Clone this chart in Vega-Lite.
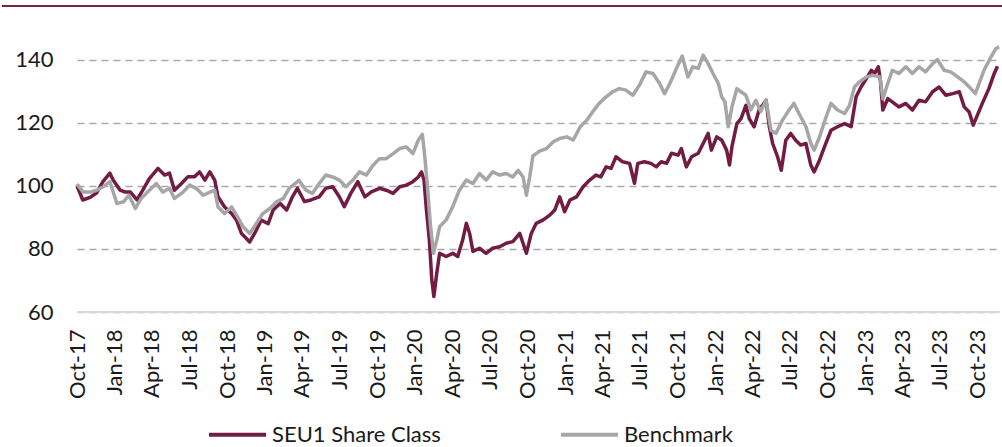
{
  "$schema": "https://vega.github.io/schema/vega-lite/v6.json",
  "width": 923,
  "height": 284,
  "autosize": "none",
  "padding": {"left": 77, "top": 28, "right": 2, "bottom": 135},
  "background": "white",
  "config": {
    "view": {"stroke": null},
    "font": "Lato",
    "axis": {"labelFont": "Lato", "labelColor": "#1a1a1a", "labelFontSize": 22},
    "legend": {"labelFont": "Lato"}
  },
  "data": {"values": [
    {"date":"2017-10-01","series":"SEU1 Share Class","value":100},
    {"date":"2017-10-15","series":"SEU1 Share Class","value":95.5},
    {"date":"2017-11-02","series":"SEU1 Share Class","value":96.3},
    {"date":"2017-11-18","series":"SEU1 Share Class","value":97.8},
    {"date":"2017-12-03","series":"SEU1 Share Class","value":101.3},
    {"date":"2017-12-20","series":"SEU1 Share Class","value":104},
    {"date":"2017-12-28","series":"SEU1 Share Class","value":101.8},
    {"date":"2018-01-14","series":"SEU1 Share Class","value":98.6},
    {"date":"2018-01-26","series":"SEU1 Share Class","value":98},
    {"date":"2018-02-08","series":"SEU1 Share Class","value":98},
    {"date":"2018-02-24","series":"SEU1 Share Class","value":95.5},
    {"date":"2018-03-10","series":"SEU1 Share Class","value":98.6},
    {"date":"2018-03-26","series":"SEU1 Share Class","value":102.3},
    {"date":"2018-04-16","series":"SEU1 Share Class","value":105.5},
    {"date":"2018-05-02","series":"SEU1 Share Class","value":103.4},
    {"date":"2018-05-14","series":"SEU1 Share Class","value":104},
    {"date":"2018-05-26","series":"SEU1 Share Class","value":98.6},
    {"date":"2018-06-12","series":"SEU1 Share Class","value":100.7},
    {"date":"2018-06-28","series":"SEU1 Share Class","value":102.9},
    {"date":"2018-07-14","series":"SEU1 Share Class","value":102.9},
    {"date":"2018-07-26","series":"SEU1 Share Class","value":104.4},
    {"date":"2018-08-08","series":"SEU1 Share Class","value":101.8},
    {"date":"2018-08-20","series":"SEU1 Share Class","value":104.4},
    {"date":"2018-09-01","series":"SEU1 Share Class","value":101.8},
    {"date":"2018-09-09","series":"SEU1 Share Class","value":96.5},
    {"date":"2018-09-25","series":"SEU1 Share Class","value":93.3},
    {"date":"2018-10-12","series":"SEU1 Share Class","value":91.2},
    {"date":"2018-10-24","series":"SEU1 Share Class","value":89.1},
    {"date":"2018-11-05","series":"SEU1 Share Class","value":84.9},
    {"date":"2018-11-17","series":"SEU1 Share Class","value":83.3},
    {"date":"2018-11-25","series":"SEU1 Share Class","value":82.2},
    {"date":"2018-12-07","series":"SEU1 Share Class","value":84.9},
    {"date":"2018-12-23","series":"SEU1 Share Class","value":89.1},
    {"date":"2019-01-09","series":"SEU1 Share Class","value":88},
    {"date":"2019-01-21","series":"SEU1 Share Class","value":92.3},
    {"date":"2019-02-07","series":"SEU1 Share Class","value":94.4},
    {"date":"2019-02-23","series":"SEU1 Share Class","value":92.3},
    {"date":"2019-03-09","series":"SEU1 Share Class","value":96.5},
    {"date":"2019-03-21","series":"SEU1 Share Class","value":99.2},
    {"date":"2019-04-07","series":"SEU1 Share Class","value":95},
    {"date":"2019-04-23","series":"SEU1 Share Class","value":95.5},
    {"date":"2019-05-13","series":"SEU1 Share Class","value":96.5},
    {"date":"2019-05-29","series":"SEU1 Share Class","value":99.2},
    {"date":"2019-06-15","series":"SEU1 Share Class","value":99.7},
    {"date":"2019-07-01","series":"SEU1 Share Class","value":96.5},
    {"date":"2019-07-13","series":"SEU1 Share Class","value":93.4},
    {"date":"2019-07-29","series":"SEU1 Share Class","value":97.6},
    {"date":"2019-08-15","series":"SEU1 Share Class","value":101.3},
    {"date":"2019-09-01","series":"SEU1 Share Class","value":96.5},
    {"date":"2019-09-17","series":"SEU1 Share Class","value":98.1},
    {"date":"2019-10-07","series":"SEU1 Share Class","value":99.2},
    {"date":"2019-10-23","series":"SEU1 Share Class","value":98.6},
    {"date":"2019-11-09","series":"SEU1 Share Class","value":97.6},
    {"date":"2019-11-25","series":"SEU1 Share Class","value":99.7},
    {"date":"2019-12-11","series":"SEU1 Share Class","value":100.2},
    {"date":"2019-12-27","series":"SEU1 Share Class","value":101.3},
    {"date":"2020-01-09","series":"SEU1 Share Class","value":102.8},
    {"date":"2020-01-17","series":"SEU1 Share Class","value":104.4},
    {"date":"2020-01-23","series":"SEU1 Share Class","value":101.8},
    {"date":"2020-01-29","series":"SEU1 Share Class","value":92.3},
    {"date":"2020-02-05","series":"SEU1 Share Class","value":82.8},
    {"date":"2020-02-11","series":"SEU1 Share Class","value":70.2},
    {"date":"2020-02-16","series":"SEU1 Share Class","value":64.9},
    {"date":"2020-02-23","series":"SEU1 Share Class","value":72.3},
    {"date":"2020-03-01","series":"SEU1 Share Class","value":78.6},
    {"date":"2020-03-17","series":"SEU1 Share Class","value":77.6},
    {"date":"2020-04-02","series":"SEU1 Share Class","value":78.6},
    {"date":"2020-04-14","series":"SEU1 Share Class","value":77.6},
    {"date":"2020-04-26","series":"SEU1 Share Class","value":82.8},
    {"date":"2020-05-05","series":"SEU1 Share Class","value":88.1},
    {"date":"2020-05-13","series":"SEU1 Share Class","value":84.9},
    {"date":"2020-05-21","series":"SEU1 Share Class","value":79.2},
    {"date":"2020-06-06","series":"SEU1 Share Class","value":80.2},
    {"date":"2020-06-22","series":"SEU1 Share Class","value":78.6},
    {"date":"2020-07-08","series":"SEU1 Share Class","value":80.2},
    {"date":"2020-07-25","series":"SEU1 Share Class","value":80.7},
    {"date":"2020-08-10","series":"SEU1 Share Class","value":81.8},
    {"date":"2020-08-26","series":"SEU1 Share Class","value":82.3},
    {"date":"2020-09-12","series":"SEU1 Share Class","value":84.9},
    {"date":"2020-09-28","series":"SEU1 Share Class","value":78.6},
    {"date":"2020-10-10","series":"SEU1 Share Class","value":84.9},
    {"date":"2020-10-22","series":"SEU1 Share Class","value":88.1},
    {"date":"2020-11-08","series":"SEU1 Share Class","value":89.2},
    {"date":"2020-11-24","series":"SEU1 Share Class","value":90.7},
    {"date":"2020-12-06","series":"SEU1 Share Class","value":92.3},
    {"date":"2020-12-18","series":"SEU1 Share Class","value":96.5},
    {"date":"2020-12-30","series":"SEU1 Share Class","value":91.8},
    {"date":"2021-01-12","series":"SEU1 Share Class","value":95.5},
    {"date":"2021-01-28","series":"SEU1 Share Class","value":96.5},
    {"date":"2021-02-13","series":"SEU1 Share Class","value":99.7},
    {"date":"2021-03-01","series":"SEU1 Share Class","value":101.8},
    {"date":"2021-03-16","series":"SEU1 Share Class","value":103.4},
    {"date":"2021-03-28","series":"SEU1 Share Class","value":102.8},
    {"date":"2021-04-10","series":"SEU1 Share Class","value":106},
    {"date":"2021-04-22","series":"SEU1 Share Class","value":105.5},
    {"date":"2021-05-04","series":"SEU1 Share Class","value":109.2},
    {"date":"2021-05-20","series":"SEU1 Share Class","value":107.6},
    {"date":"2021-06-06","series":"SEU1 Share Class","value":107.1},
    {"date":"2021-06-18","series":"SEU1 Share Class","value":100.8},
    {"date":"2021-06-26","series":"SEU1 Share Class","value":107.1},
    {"date":"2021-07-12","series":"SEU1 Share Class","value":107.6},
    {"date":"2021-07-28","series":"SEU1 Share Class","value":107.1},
    {"date":"2021-08-10","series":"SEU1 Share Class","value":106},
    {"date":"2021-08-22","series":"SEU1 Share Class","value":107.6},
    {"date":"2021-09-04","series":"SEU1 Share Class","value":107.1},
    {"date":"2021-09-16","series":"SEU1 Share Class","value":110.3},
    {"date":"2021-10-02","series":"SEU1 Share Class","value":109.7},
    {"date":"2021-10-10","series":"SEU1 Share Class","value":111.8},
    {"date":"2021-10-22","series":"SEU1 Share Class","value":106},
    {"date":"2021-11-04","series":"SEU1 Share Class","value":109.2},
    {"date":"2021-11-20","series":"SEU1 Share Class","value":110.3},
    {"date":"2021-12-02","series":"SEU1 Share Class","value":113.4},
    {"date":"2021-12-14","series":"SEU1 Share Class","value":116.6},
    {"date":"2021-12-22","series":"SEU1 Share Class","value":111.3},
    {"date":"2022-01-04","series":"SEU1 Share Class","value":115.5},
    {"date":"2022-01-16","series":"SEU1 Share Class","value":114.5},
    {"date":"2022-01-28","series":"SEU1 Share Class","value":111.3},
    {"date":"2022-02-04","series":"SEU1 Share Class","value":106.6},
    {"date":"2022-02-10","series":"SEU1 Share Class","value":112.4},
    {"date":"2022-02-22","series":"SEU1 Share Class","value":119.7},
    {"date":"2022-03-04","series":"SEU1 Share Class","value":121.3},
    {"date":"2022-03-16","series":"SEU1 Share Class","value":125.5},
    {"date":"2022-03-24","series":"SEU1 Share Class","value":121.3},
    {"date":"2022-04-05","series":"SEU1 Share Class","value":118.7},
    {"date":"2022-04-17","series":"SEU1 Share Class","value":124},
    {"date":"2022-05-04","series":"SEU1 Share Class","value":127.1},
    {"date":"2022-05-12","series":"SEU1 Share Class","value":118.7},
    {"date":"2022-05-20","series":"SEU1 Share Class","value":113.4},
    {"date":"2022-06-01","series":"SEU1 Share Class","value":109.2},
    {"date":"2022-06-10","series":"SEU1 Share Class","value":104.9},
    {"date":"2022-06-21","series":"SEU1 Share Class","value":114.4},
    {"date":"2022-07-03","series":"SEU1 Share Class","value":116.6},
    {"date":"2022-07-15","series":"SEU1 Share Class","value":114.4},
    {"date":"2022-07-27","series":"SEU1 Share Class","value":112.9},
    {"date":"2022-08-09","series":"SEU1 Share Class","value":113.4},
    {"date":"2022-08-21","series":"SEU1 Share Class","value":106.5},
    {"date":"2022-08-29","series":"SEU1 Share Class","value":104.4},
    {"date":"2022-09-11","series":"SEU1 Share Class","value":108.1},
    {"date":"2022-09-23","series":"SEU1 Share Class","value":112.3},
    {"date":"2022-10-09","series":"SEU1 Share Class","value":117.6},
    {"date":"2022-10-25","series":"SEU1 Share Class","value":118.7},
    {"date":"2022-11-11","series":"SEU1 Share Class","value":119.7},
    {"date":"2022-11-27","series":"SEU1 Share Class","value":118.7},
    {"date":"2022-12-09","series":"SEU1 Share Class","value":128.2},
    {"date":"2022-12-21","series":"SEU1 Share Class","value":131.3},
    {"date":"2023-01-03","series":"SEU1 Share Class","value":134},
    {"date":"2023-01-15","series":"SEU1 Share Class","value":136.6},
    {"date":"2023-01-23","series":"SEU1 Share Class","value":135.6},
    {"date":"2023-02-01","series":"SEU1 Share Class","value":137.7},
    {"date":"2023-02-06","series":"SEU1 Share Class","value":133.5},
    {"date":"2023-02-12","series":"SEU1 Share Class","value":124},
    {"date":"2023-02-24","series":"SEU1 Share Class","value":127.6},
    {"date":"2023-03-07","series":"SEU1 Share Class","value":126.6},
    {"date":"2023-03-23","series":"SEU1 Share Class","value":125},
    {"date":"2023-04-09","series":"SEU1 Share Class","value":126.1},
    {"date":"2023-04-25","series":"SEU1 Share Class","value":124},
    {"date":"2023-05-11","series":"SEU1 Share Class","value":127.1},
    {"date":"2023-05-27","series":"SEU1 Share Class","value":126.6},
    {"date":"2023-06-13","series":"SEU1 Share Class","value":129.8},
    {"date":"2023-06-29","series":"SEU1 Share Class","value":131.3},
    {"date":"2023-07-15","series":"SEU1 Share Class","value":128.7},
    {"date":"2023-08-01","series":"SEU1 Share Class","value":129.2},
    {"date":"2023-08-17","series":"SEU1 Share Class","value":129.8},
    {"date":"2023-08-29","series":"SEU1 Share Class","value":125},
    {"date":"2023-09-10","series":"SEU1 Share Class","value":123.4},
    {"date":"2023-09-20","series":"SEU1 Share Class","value":119.2},
    {"date":"2023-09-30","series":"SEU1 Share Class","value":122.4},
    {"date":"2023-10-12","series":"SEU1 Share Class","value":126.1},
    {"date":"2023-10-28","series":"SEU1 Share Class","value":130.8},
    {"date":"2023-11-10","series":"SEU1 Share Class","value":135.6},
    {"date":"2023-11-18","series":"SEU1 Share Class","value":137.9},
    {"date":"2017-10-01","series":"Benchmark","value":100.5},
    {"date":"2017-10-16","series":"Benchmark","value":98},
    {"date":"2017-11-02","series":"Benchmark","value":98},
    {"date":"2017-11-18","series":"Benchmark","value":98.6},
    {"date":"2017-12-04","series":"Benchmark","value":99.7},
    {"date":"2017-12-20","series":"Benchmark","value":101.3},
    {"date":"2018-01-06","series":"Benchmark","value":94.4},
    {"date":"2018-01-22","series":"Benchmark","value":94.9},
    {"date":"2018-02-04","series":"Benchmark","value":97},
    {"date":"2018-02-20","series":"Benchmark","value":92.8},
    {"date":"2018-03-06","series":"Benchmark","value":96},
    {"date":"2018-03-26","series":"Benchmark","value":98.6},
    {"date":"2018-04-12","series":"Benchmark","value":100.7},
    {"date":"2018-04-28","series":"Benchmark","value":98},
    {"date":"2018-05-14","series":"Benchmark","value":99.2},
    {"date":"2018-05-26","series":"Benchmark","value":96},
    {"date":"2018-06-16","series":"Benchmark","value":98},
    {"date":"2018-07-02","series":"Benchmark","value":100.2},
    {"date":"2018-07-18","series":"Benchmark","value":99.2},
    {"date":"2018-08-04","series":"Benchmark","value":97},
    {"date":"2018-08-20","series":"Benchmark","value":98},
    {"date":"2018-09-01","series":"Benchmark","value":98.6},
    {"date":"2018-09-09","series":"Benchmark","value":93.3},
    {"date":"2018-09-25","series":"Benchmark","value":91.2},
    {"date":"2018-10-12","series":"Benchmark","value":93.3},
    {"date":"2018-10-24","series":"Benchmark","value":90.7},
    {"date":"2018-11-09","series":"Benchmark","value":87},
    {"date":"2018-11-25","series":"Benchmark","value":84.9},
    {"date":"2018-12-11","series":"Benchmark","value":88},
    {"date":"2018-12-27","series":"Benchmark","value":91.2},
    {"date":"2019-01-13","series":"Benchmark","value":92.8},
    {"date":"2019-01-29","series":"Benchmark","value":94.9},
    {"date":"2019-02-15","series":"Benchmark","value":96},
    {"date":"2019-03-01","series":"Benchmark","value":99.2},
    {"date":"2019-03-25","series":"Benchmark","value":101.7},
    {"date":"2019-04-11","series":"Benchmark","value":98.6},
    {"date":"2019-04-27","series":"Benchmark","value":97.6},
    {"date":"2019-05-13","series":"Benchmark","value":100.7},
    {"date":"2019-05-29","series":"Benchmark","value":103.4},
    {"date":"2019-06-15","series":"Benchmark","value":102.8},
    {"date":"2019-07-01","series":"Benchmark","value":101.8},
    {"date":"2019-07-17","series":"Benchmark","value":99.7},
    {"date":"2019-08-03","series":"Benchmark","value":101.8},
    {"date":"2019-08-19","series":"Benchmark","value":104.4},
    {"date":"2019-09-05","series":"Benchmark","value":103.4},
    {"date":"2019-09-21","series":"Benchmark","value":106.5},
    {"date":"2019-10-07","series":"Benchmark","value":108.6},
    {"date":"2019-10-23","series":"Benchmark","value":108.6},
    {"date":"2019-11-09","series":"Benchmark","value":110.2},
    {"date":"2019-11-25","series":"Benchmark","value":111.8},
    {"date":"2019-12-11","series":"Benchmark","value":112.3},
    {"date":"2019-12-27","series":"Benchmark","value":110.2},
    {"date":"2020-01-09","series":"Benchmark","value":114.4},
    {"date":"2020-01-19","series":"Benchmark","value":116.3},
    {"date":"2020-01-25","series":"Benchmark","value":109.2},
    {"date":"2020-02-01","series":"Benchmark","value":98.6},
    {"date":"2020-02-08","series":"Benchmark","value":87},
    {"date":"2020-02-15","series":"Benchmark","value":78.6},
    {"date":"2020-02-23","series":"Benchmark","value":82.8},
    {"date":"2020-03-01","series":"Benchmark","value":87},
    {"date":"2020-03-17","series":"Benchmark","value":89.2},
    {"date":"2020-04-02","series":"Benchmark","value":93.4},
    {"date":"2020-04-18","series":"Benchmark","value":98.6},
    {"date":"2020-05-05","series":"Benchmark","value":101.8},
    {"date":"2020-05-21","series":"Benchmark","value":100.7},
    {"date":"2020-06-06","series":"Benchmark","value":103.9},
    {"date":"2020-06-22","series":"Benchmark","value":101.8},
    {"date":"2020-07-08","series":"Benchmark","value":104.4},
    {"date":"2020-07-25","series":"Benchmark","value":103.4},
    {"date":"2020-08-10","series":"Benchmark","value":103.9},
    {"date":"2020-08-26","series":"Benchmark","value":102.8},
    {"date":"2020-09-08","series":"Benchmark","value":104.9},
    {"date":"2020-09-20","series":"Benchmark","value":102.8},
    {"date":"2020-09-28","series":"Benchmark","value":97},
    {"date":"2020-10-06","series":"Benchmark","value":102.8},
    {"date":"2020-10-14","series":"Benchmark","value":109.5},
    {"date":"2020-10-30","series":"Benchmark","value":111},
    {"date":"2020-11-16","series":"Benchmark","value":111.8},
    {"date":"2020-12-02","series":"Benchmark","value":113.9},
    {"date":"2020-12-18","series":"Benchmark","value":115},
    {"date":"2021-01-04","series":"Benchmark","value":115.5},
    {"date":"2021-01-20","series":"Benchmark","value":114.5},
    {"date":"2021-02-06","series":"Benchmark","value":118.7},
    {"date":"2021-02-22","series":"Benchmark","value":120.8},
    {"date":"2021-03-08","series":"Benchmark","value":123.4},
    {"date":"2021-03-24","series":"Benchmark","value":126.1},
    {"date":"2021-04-10","series":"Benchmark","value":128.2},
    {"date":"2021-04-26","series":"Benchmark","value":129.8},
    {"date":"2021-05-12","series":"Benchmark","value":130.8},
    {"date":"2021-05-28","series":"Benchmark","value":130.3},
    {"date":"2021-06-14","series":"Benchmark","value":128.7},
    {"date":"2021-06-30","series":"Benchmark","value":131.9},
    {"date":"2021-07-16","series":"Benchmark","value":136.1},
    {"date":"2021-08-02","series":"Benchmark","value":135.6},
    {"date":"2021-08-18","series":"Benchmark","value":132.4},
    {"date":"2021-08-30","series":"Benchmark","value":129.2},
    {"date":"2021-09-12","series":"Benchmark","value":132.4},
    {"date":"2021-09-28","series":"Benchmark","value":137.2},
    {"date":"2021-10-12","series":"Benchmark","value":141.1},
    {"date":"2021-10-26","series":"Benchmark","value":134.5},
    {"date":"2021-11-07","series":"Benchmark","value":137.7},
    {"date":"2021-11-20","series":"Benchmark","value":137.2},
    {"date":"2021-12-02","series":"Benchmark","value":141.4},
    {"date":"2021-12-14","series":"Benchmark","value":138.7},
    {"date":"2021-12-26","series":"Benchmark","value":135.6},
    {"date":"2022-01-08","series":"Benchmark","value":132.4},
    {"date":"2022-01-16","series":"Benchmark","value":128.2},
    {"date":"2022-01-24","series":"Benchmark","value":126.6},
    {"date":"2022-02-01","series":"Benchmark","value":118.7},
    {"date":"2022-02-10","series":"Benchmark","value":125},
    {"date":"2022-02-22","series":"Benchmark","value":130.8},
    {"date":"2022-03-04","series":"Benchmark","value":129.8},
    {"date":"2022-03-16","series":"Benchmark","value":128.7},
    {"date":"2022-03-28","series":"Benchmark","value":124},
    {"date":"2022-04-09","series":"Benchmark","value":127.1},
    {"date":"2022-04-21","series":"Benchmark","value":123.5},
    {"date":"2022-05-04","series":"Benchmark","value":127.1},
    {"date":"2022-05-16","series":"Benchmark","value":117.6},
    {"date":"2022-05-28","series":"Benchmark","value":116.6},
    {"date":"2022-06-13","series":"Benchmark","value":120.8},
    {"date":"2022-06-29","series":"Benchmark","value":124},
    {"date":"2022-07-11","series":"Benchmark","value":126.1},
    {"date":"2022-07-23","series":"Benchmark","value":122.9},
    {"date":"2022-08-09","series":"Benchmark","value":118.7},
    {"date":"2022-08-21","series":"Benchmark","value":113.4},
    {"date":"2022-08-29","series":"Benchmark","value":111.3},
    {"date":"2022-09-11","series":"Benchmark","value":115.5},
    {"date":"2022-09-27","series":"Benchmark","value":121.8},
    {"date":"2022-10-09","series":"Benchmark","value":126.1},
    {"date":"2022-10-25","series":"Benchmark","value":124},
    {"date":"2022-11-11","series":"Benchmark","value":122.9},
    {"date":"2022-11-23","series":"Benchmark","value":125.5},
    {"date":"2022-12-05","series":"Benchmark","value":131.3},
    {"date":"2022-12-17","series":"Benchmark","value":132.9},
    {"date":"2023-01-03","series":"Benchmark","value":134.5},
    {"date":"2023-01-19","series":"Benchmark","value":135},
    {"date":"2023-02-05","series":"Benchmark","value":134.5},
    {"date":"2023-02-12","series":"Benchmark","value":127.6},
    {"date":"2023-02-24","series":"Benchmark","value":132.4},
    {"date":"2023-03-07","series":"Benchmark","value":136.6},
    {"date":"2023-03-23","series":"Benchmark","value":135.6},
    {"date":"2023-04-09","series":"Benchmark","value":137.7},
    {"date":"2023-04-25","series":"Benchmark","value":135.6},
    {"date":"2023-05-11","series":"Benchmark","value":137.7},
    {"date":"2023-05-27","series":"Benchmark","value":136.1},
    {"date":"2023-06-13","series":"Benchmark","value":138.7},
    {"date":"2023-06-25","series":"Benchmark","value":140},
    {"date":"2023-07-11","series":"Benchmark","value":136.6},
    {"date":"2023-07-27","series":"Benchmark","value":136.1},
    {"date":"2023-08-13","series":"Benchmark","value":134.5},
    {"date":"2023-08-29","series":"Benchmark","value":132.9},
    {"date":"2023-09-14","series":"Benchmark","value":130.8},
    {"date":"2023-09-25","series":"Benchmark","value":129.2},
    {"date":"2023-10-04","series":"Benchmark","value":132.4},
    {"date":"2023-10-16","series":"Benchmark","value":136.6},
    {"date":"2023-11-02","series":"Benchmark","value":140.8},
    {"date":"2023-11-14","series":"Benchmark","value":143.5},
    {"date":"2023-11-22","series":"Benchmark","value":144}
  ]},
  "layer": [
    {
      "mark": {"type": "rule", "color": "#d9d9d9", "strokeWidth": 2},
      "encoding": {"y": {"datum": 60, "scale": {"domain": [60, 150], "nice": false, "zero": false}}}
    },
    {
      "mark": {"type": "rule", "color": "#7a2148", "strokeWidth": 2},
      "encoding": {
        "y": {"datum": 157},
        "x": {"datum": {"year": 2017, "month": 4, "date": 4, "utc": true}},
        "x2": {"datum": {"year": 2023, "month": 11, "date": 27, "utc": true}}
      }
    },
    {
      "transform": [{"filter": "datum.series == 'SEU1 Share Class'"}],
      "mark": {"type": "line", "strokeWidth": 3.5, "strokeJoin": "round"},
      "encoding": {
        "x": {"field": "date", "type": "temporal"},
        "y": {"field": "value", "type": "quantitative"},
        "color": {"field": "series", "type": "nominal"}
      }
    },
    {
      "transform": [{"filter": "datum.series == 'Benchmark'"}],
      "mark": {"type": "line", "strokeWidth": 3.5, "strokeJoin": "round"},
      "encoding": {
        "x": {"field": "date", "type": "temporal"},
        "y": {"field": "value", "type": "quantitative"},
        "color": {"field": "series", "type": "nominal"}
      }
    }
  ],
  "resolve": {"scale": {"x": "shared", "y": "shared", "color": "shared"}},
  "encoding": {
    "x": {
      "type": "temporal",
      "scale": {"type": "utc", "domain": [{"year": 2017, "month": 10, "date": 1, "utc": true}, {"year": 2023, "month": 11, "date": 24, "utc": true}]},
      "axis": {
        "title": null,
        "tickCount": {"interval": "month", "step": 3},
        "format": "%b-%y",
        "labelAngle": 270,
        "labelAlign": "right",
        "labelBaseline": "middle",
        "ticks": false,
        "tickSize": 0,
        "domain": false,
        "grid": false,
        "labelPadding": 17,
        "labelOverlap": false,
        "labelFlush": false,
        "labelBound": false
      }
    },
    "y": {
      "type": "quantitative",
      "scale": {"domain": [60, 150], "nice": false, "zero": false},
      "axis": {
        "title": null,
        "values": [60, 80, 100, 120, 140],
        "grid": true,
        "gridDash": [7, 5],
        "gridColor": "#a8a8a8",
        "gridWidth": 1.5,
        "domain": false,
        "ticks": false,
        "tickSize": 0,
        "labelPadding": 24
      }
    },
    "color": {
      "type": "nominal",
      "scale": {"domain": ["SEU1 Share Class", "Benchmark"], "range": ["#721c44", "#a6a6a6"]},
      "legend": {
        "title": null,
        "orient": "none",
        "legendX": 130,
        "legendY": 376,
        "direction": "horizontal",
        "symbolType": "stroke",
        "symbolSize": 3249,
        "symbolStrokeWidth": 4,
        "labelFontSize": 22,
        "labelLimit": 400,
        "labelColor": "#1a1a1a",
        "labelOffset": 4,
        "columnPadding": 112,
        "padding": 0
      }
    }
  }
}
